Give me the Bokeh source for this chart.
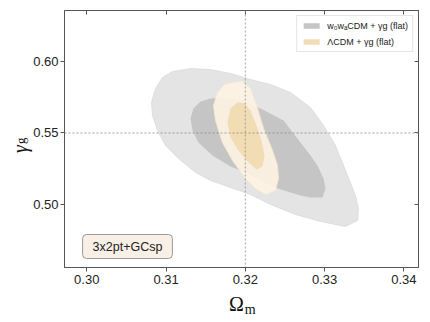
import numpy as np
from bokeh.plotting import figure
from bokeh.models import (Span, Label, Legend, LegendItem, LinearAxis, FixedTicker,
                          PrintfTickFormatter, Range1d)
from bokeh.embed import file_html
from bokeh.resources import INLINE

# ---- data ----
x_ticks = [0.30, 0.31, 0.32, 0.33, 0.34]
y_ticks = [0.50, 0.55, 0.60]
fid_om = 0.32
fid_gamma = 0.55

w0wa_95_om = [0.30816, 0.30867, 0.30955, 0.31081, 0.31308, 0.31561, 0.31813, 0.32066, 0.32318,
              0.32570, 0.32823, 0.32987, 0.33138, 0.33290, 0.33390, 0.33428, 0.33416, 0.33264,
              0.32949, 0.32633, 0.32318, 0.32066, 0.31813, 0.31561, 0.31372, 0.31157, 0.30993,
              0.30892, 0.30829]
w0wa_95_g = [0.57133, 0.58112, 0.58881, 0.59301, 0.59510, 0.59441, 0.59161, 0.58741, 0.58392,
             0.57832, 0.56783, 0.55524, 0.54126, 0.52028, 0.50629, 0.49720, 0.48881, 0.48462,
             0.48811, 0.49301, 0.50000, 0.50699, 0.51189, 0.51678, 0.52238, 0.53217, 0.54126,
             0.55175, 0.56224]

w0wa_68_om = [0.31308, 0.31346, 0.31435, 0.31561, 0.31712, 0.31939, 0.32192, 0.32482, 0.32696,
              0.32823, 0.32911, 0.32987, 0.33012, 0.32974, 0.32823, 0.32696, 0.32406, 0.32192,
              0.32002, 0.31813, 0.31586, 0.31409, 0.31334]
w0wa_68_g = [0.56014, 0.56713, 0.57203, 0.57413, 0.57483, 0.57273, 0.56713, 0.55874, 0.54336,
             0.53427, 0.52727, 0.51818, 0.51119, 0.50490, 0.50490, 0.50629, 0.51119, 0.51678,
             0.52238, 0.52657, 0.53427, 0.54336, 0.55175]

lcdm_95_om = [0.31838, 0.31965, 0.32066, 0.32154, 0.32230, 0.32343, 0.32406, 0.32419, 0.32381,
              0.32255, 0.32129, 0.32002, 0.31838, 0.31712, 0.31624, 0.31599, 0.31649, 0.31738]
lcdm_95_g = [0.58531, 0.58601, 0.58112, 0.56713, 0.55315, 0.53776, 0.52727, 0.51818, 0.50979,
             0.50699, 0.51119, 0.51818, 0.53077, 0.54336, 0.55874, 0.56923, 0.57832, 0.58392]

lcdm_68_om = [0.31902, 0.31990, 0.32066, 0.32141, 0.32204, 0.32242, 0.32217, 0.32141, 0.32040,
              0.31914, 0.31813, 0.31775, 0.31813]
lcdm_68_g = [0.57133, 0.57063, 0.56573, 0.55524, 0.54476, 0.53427, 0.52657, 0.52448, 0.52937,
             0.53776, 0.54685, 0.55734, 0.56713]

legend_labels = ["w\u2080w\u2090CDM + \u03b3g (flat)", "\u039bCDM + \u03b3g (flat)"]
probe_label = "3x2pt+GCsp"
x_label_main, x_label_sub = "\u03a9", "m"
y_label_main, y_label_sub = "\u03b3", "g"

FONT = "Liberation Sans"
SERIF = "Liberation Serif"
NB = "\u00a0"
EDGE = "#555555"

p = figure(width=428, height=320, output_backend="svg", toolbar_location=None,
           x_range=Range1d(0.29719, 0.34185), y_range=Range1d(0.45594, 0.63566),
           min_border_left=64, min_border_right=10, min_border_top=10, min_border_bottom=53)
p.grid.visible = False
p.outline_line_color = EDGE
p.outline_line_width = 1

r95 = p.patch(w0wa_95_om, w0wa_95_g, fill_color="#e4e4e4", line_color="#dadada", line_width=0.8)
r68 = p.patch(w0wa_68_om, w0wa_68_g, fill_color="#c5c5c5", line_color=None)
l95 = p.patch(lcdm_95_om, lcdm_95_g, fill_color="#fdf3e2", fill_alpha=0.9, line_color="#f6ead4", line_width=0.8)
l68 = p.patch(lcdm_68_om, lcdm_68_g, fill_color="#efd9ae", fill_alpha=0.9, line_color=None)

for sp in (Span(location=fid_om, dimension="height"), Span(location=fid_gamma, dimension="width")):
    sp.line_color = "#8a8a8a"
    sp.line_width = 0.8
    sp.line_dash = "2 2"
    p.add_layout(sp)

# main axes
for ax, ticks in ((p.xaxis[0], x_ticks), (p.yaxis[0], y_ticks)):
    ax.ticker = FixedTicker(ticks=ticks)
    ax.formatter = PrintfTickFormatter(format="%.2f")
    ax.major_tick_out = 4
    ax.major_tick_in = 0
    ax.minor_tick_line_color = None
    ax.major_tick_line_color = EDGE
    ax.axis_line_color = EDGE
    ax.major_label_text_font = FONT
    ax.major_label_text_font_size = "13px"
    ax.major_label_text_color = "#222222"
    ax.axis_label_text_font = SERIF
    ax.axis_label_text_color = "#111111"
    ax.axis_label_text_font_style = "normal"

p.xaxis[0].major_label_standoff = 3
p.yaxis[0].major_label_standoff = 2

# x label: Omega on main axis, subscript m on an outer axis pulled back up
p.xaxis[0].axis_label = x_label_main + NB + NB
p.xaxis[0].axis_label_text_font_size = "20px"
p.xaxis[0].axis_label_standoff = 6

# y label: subscript g on main axis, gamma on an outer axis pulled back in
p.yaxis[0].axis_label = y_label_sub + NB
p.yaxis[0].axis_label_text_font_size = "13px"
p.yaxis[0].axis_label_standoff = 2


def bare_axis(ticks, label, size, standoff, italic=False):
    ax = LinearAxis(ticker=FixedTicker(ticks=ticks), major_tick_in=0, major_tick_out=0,
                    minor_tick_line_color=None, major_tick_line_color=None,
                    major_label_text_color=None, major_label_text_font_size="1px",
                    major_label_standoff=0, axis_line_color=None,
                    axis_label=label, axis_label_text_font=SERIF,
                    axis_label_text_font_size=size, axis_label_standoff=standoff,
                    axis_label_text_color="#111111",
                    axis_label_text_font_style="italic" if italic else "normal")
    return ax


p.add_layout(bare_axis(x_ticks, NB * 5 + x_label_sub, "14px", -16), "below")
p.add_layout(bare_axis(y_ticks, y_label_main + NB * 4, "20px", -20, italic=True), "left")

# inward ticks on top and right
for side, ticks in (("above", x_ticks), ("right", y_ticks)):
    ax = LinearAxis(ticker=FixedTicker(ticks=ticks), major_tick_in=4, major_tick_out=0,
                    minor_tick_line_color=None, major_label_text_color=None,
                    major_label_text_font_size="1px", major_label_standoff=0,
                    axis_line_color=EDGE, major_tick_line_color=EDGE)
    p.add_layout(ax, side)

# probe box
p.add_layout(Label(x=63, y=21, x_units="screen", y_units="screen", text=probe_label,
                   text_font=FONT, text_font_size="12.5px", text_align="center",
                   text_baseline="middle", text_color="#222222",
                   background_fill_color="#f8f0e6", border_line_color="#999999",
                   border_line_width=1, border_radius=4, padding=(10, 5)))

legend = Legend(items=[LegendItem(label=legend_labels[0], renderers=[r68]),
                       LegendItem(label=legend_labels[1], renderers=[l68])],
                location="top_right", margin=5, padding=4, spacing=5,
                label_height=11, glyph_height=7, glyph_width=20, label_standoff=6,
                label_text_font=FONT, label_text_font_size="9px", label_text_color="#222222",
                border_line_color="#cccccc", border_line_width=1,
                background_fill_color="white", background_fill_alpha=0.9)
p.add_layout(legend)

open("out.html", "w").write(file_html(p, INLINE))
